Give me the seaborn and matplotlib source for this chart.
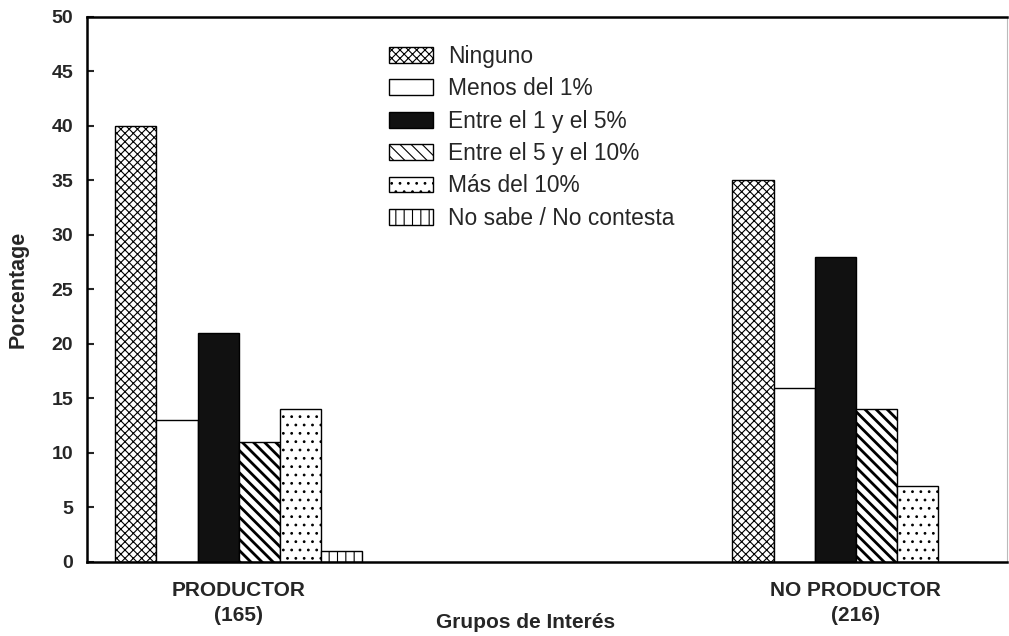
import matplotlib
matplotlib.use("Agg")
import matplotlib.pyplot as plt
import seaborn as sns
import pandas as pd

groups = ["PRODUCTOR\n(165)", "NO PRODUCTOR\n(216)"]
categories = ["Ninguno", "Menos del 1%", "Entre el 1 y el 5%",
              "Entre el 5 y el 10%", "Más del 10%", "No sabe / No contesta"]
productor = [40, 13, 21, 11, 14, 1]
no_productor = [35, 16, 28, 14, 7, 0]

rows = []
for cat, v1, v2 in zip(categories, productor, no_productor):
    rows.append({"grupo": groups[0], "cat": cat, "pct": v1})
    rows.append({"grupo": groups[1], "cat": cat, "pct": v2})
df = pd.DataFrame(rows)

sns.set_theme(style="white")
plt.rcParams["font.family"] = ["Liberation Sans", "DejaVu Sans"]
plt.rcParams["hatch.linewidth"] = 0.8

facecolors = ["white", "white", "#111111", "white", "white", "white"]
hatches = ["xxxx", "", "", "\\\\\\", "..", "||"]

fig = plt.figure(figsize=(10.09, 6.36), dpi=100)
ax = fig.add_axes([0.0862, 0.1164, 0.9118, 0.857])

sns.barplot(data=df, x="grupo", y="pct", hue="cat", order=groups,
            hue_order=categories, palette=facecolors, width=0.4,
            edgecolor="black", linewidth=1.0, saturation=1, legend=False, ax=ax)

for cont, fc, h in zip(ax.containers, facecolors, hatches):
    for p in cont:
        p.set_facecolor(fc)
        p.set_edgecolor("black")
        p.set_hatch(h)
        if h.startswith("\\") and hasattr(p, "set_hatch_linewidth"):
            p.set_hatch_linewidth(2.0)

ax.set_ylim(0, 50)
ax.set_xlim(-0.246, 1.245)
ax.set_yticks(range(0, 51, 5))
ax.tick_params(axis="y", direction="in", length=5, width=1.5, left=True,
               labelsize=14, pad=10)
ax.tick_params(axis="x", length=0, labelsize=15, pad=14)
for lab in ax.get_yticklabels() + ax.get_xticklabels():
    lab.set_fontweight("bold")
for lab in ax.get_xticklabels():
    lab.set_linespacing(1.36)

ax.set_ylabel("Porcentage", fontsize=15.5, fontweight="bold", labelpad=16)
ax.set_xlabel("Grupos de Interés", fontsize=15, fontweight="bold")
ax.xaxis.set_label_coords(0.477, -0.093)

for s in ["left", "bottom", "top"]:
    ax.spines[s].set_visible(True)
    ax.spines[s].set_color("black")
    ax.spines[s].set_linewidth(1.8)
ax.spines["right"].set_color("#bbbbbb")
ax.spines["right"].set_linewidth(0.8)

leg = ax.legend(ax.containers, categories, loc="upper left",
                bbox_to_anchor=(0.318, 0.965), frameon=False, fontsize=16.4,
                handlelength=1.93, handleheight=0.7, handletextpad=0.66,
                labelspacing=0.41, borderaxespad=0)

fig.savefig("out.png", dpi=100)
